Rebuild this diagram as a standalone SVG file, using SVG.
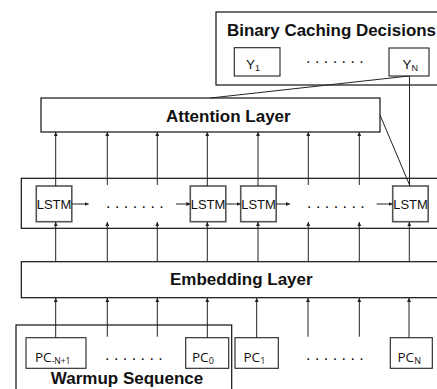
<svg xmlns="http://www.w3.org/2000/svg" width="437" height="389" viewBox="0 0 437 389">
<defs>
<marker id="ah" viewBox="0 0 6 6" refX="6" refY="3" markerWidth="4" markerHeight="4" markerUnits="userSpaceOnUse" orient="auto">
<path d="M0,0 L6,3 L0,6 z" fill="#222"/>
</marker>
<style>
.outer{fill:#fff;stroke:#111;stroke-width:1.2}
.inner{fill:#fff;stroke:#555;stroke-width:1.6}
.box{fill:#fff;stroke:#222;stroke-width:1.1}
.ln{stroke:#222;stroke-width:1;fill:none}
.ar{stroke:#222;stroke-width:1;fill:none;marker-end:url(#ah)}
.title{font-family:"Liberation Sans",Arial,sans-serif;font-weight:bold;font-size:17px;fill:#111}
.lstm{font-family:"Liberation Sans",Arial,sans-serif;font-size:13px;fill:#111}
.y{font-family:"Liberation Sans",Arial,sans-serif;font-size:13.5px;fill:#111}
.pc{font-family:"Open Sans","Noto Sans",sans-serif;font-size:13.5px;fill:#111}
.dots{font-family:"Liberation Sans",Arial,sans-serif;font-size:16px;fill:#111}
</style>
</defs>

<g id="binary-caching-decisions">
<rect class="outer" x="216" y="12" width="240" height="73"/>
<text class="title" x="227" y="36" textLength="209" lengthAdjust="spacingAndGlyphs">Binary Caching Decisions</text>
</g>
<g id="y1">
<rect class="box" x="234.3" y="47.7" width="45.7" height="28.3"/>
<text class="y" x="246" y="68.5">Y<tspan font-size="9" dy="2.5">1</tspan></text>
</g>
<g id="y-dots"><text class="dots" x="306" y="63">. . . . . . .</text></g>
<g id="yN">
<rect class="box" x="389" y="48" width="40" height="28"/>
<text class="y" x="402.5" y="68.5">Y<tspan font-size="9" dy="2.5">N</tspan></text>
</g>

<g id="attention-layer">
<rect class="outer" x="41" y="98" width="339" height="34"/>
<text class="title" x="166" y="121.5">Attention Layer</text>
</g>

<g id="lstm-row">
<rect class="outer" x="21.3" y="178.3" width="430" height="50"/>
</g>
<g id="lstm1"><rect class="inner" x="36.3" y="186" width="35.5" height="35.7"/><text class="lstm" x="54" y="208.5" text-anchor="middle">LSTM</text></g>
<g id="lstm2"><rect class="inner" x="190.3" y="186" width="35.5" height="35.7"/><text class="lstm" x="208" y="208.5" text-anchor="middle">LSTM</text></g>
<g id="lstm3"><rect class="inner" x="240.7" y="186" width="35.5" height="35.7"/><text class="lstm" x="258.5" y="208.5" text-anchor="middle">LSTM</text></g>
<g id="lstmN"><rect class="inner" x="392.7" y="186" width="35.5" height="35.7"/><text class="lstm" x="410.5" y="208.5" text-anchor="middle">LSTM</text></g>
<g id="lstm-dots">
<text class="dots" x="106" y="208">. . . . . . .</text>
<text class="dots" x="307" y="208">. . . . . . .</text>
</g>

<g id="embedding-layer">
<rect class="outer" x="21.3" y="261.7" width="430" height="36"/>
<text class="title" x="170" y="285">Embedding Layer</text>
</g>

<g id="warmup-sequence">
<rect class="outer" x="16" y="325" width="215.7" height="80"/>
<text class="title" x="127" y="383.5" text-anchor="middle">Warmup Sequence</text>
</g>
<g id="pc-n1"><rect class="box" x="26" y="337.7" width="60" height="30.6"/><text class="pc" x="35" y="361.5">PC<tspan font-size="8.5" dy="2.5">-N+1</tspan></text></g>
<g id="pc-dots1"><text class="dots" x="105" y="360">. . . . . . .</text></g>
<g id="pc0"><rect class="box" x="185.7" y="337.7" width="43" height="30.6"/><text class="pc" x="192" y="361.5">PC<tspan font-size="9" dy="2.5">0</tspan></text></g>
<g id="pc1"><rect class="box" x="235" y="337.7" width="43.3" height="30.6"/><text class="pc" x="243.5" y="361.5">PC<tspan font-size="9" dy="2.5">1</tspan></text></g>
<g id="pc-dots2"><text class="dots" x="306" y="360">. . . . . . .</text></g>
<g id="pcN"><rect class="box" x="390.3" y="337.7" width="42" height="30.6"/><text class="pc" x="397.5" y="361.5">PC<tspan font-size="9" dy="2.5">N</tspan></text></g>

<g id="connectors">
<line class="ln" x1="408.8" y1="76" x2="210.5" y2="98"/>
<line class="ln" x1="409.5" y1="76" x2="409.5" y2="186"/>
<line class="ln" x1="380" y1="115" x2="410" y2="186"/>

<line class="ar" x1="55.7" y1="186" x2="55.7" y2="132"/>
<line class="ar" x1="107.3" y1="185" x2="107.3" y2="132"/>
<line class="ar" x1="157.3" y1="185" x2="157.3" y2="132"/>
<line class="ar" x1="207.3" y1="186" x2="207.3" y2="132"/>
<line class="ar" x1="258" y1="186" x2="258" y2="132"/>
<line class="ar" x1="308.3" y1="185" x2="308.3" y2="132"/>
<line class="ar" x1="359.3" y1="185" x2="359.3" y2="132"/>

<line class="ar" x1="72" y1="204" x2="88.7" y2="204"/>
<line class="ar" x1="176" y1="204" x2="190.3" y2="204"/>
<line class="ar" x1="226" y1="204" x2="240.7" y2="204"/>
<line class="ar" x1="276" y1="204" x2="290" y2="204"/>
<line class="ar" x1="376.7" y1="204" x2="392.7" y2="204"/>

<line class="ar" x1="55.7" y1="262" x2="55.7" y2="222"/>
<line class="ar" x1="107.3" y1="262" x2="107.3" y2="222"/>
<line class="ar" x1="157.3" y1="262" x2="157.3" y2="222"/>
<line class="ar" x1="207.3" y1="262" x2="207.3" y2="222"/>
<line class="ar" x1="258" y1="262" x2="258" y2="222"/>
<line class="ar" x1="308.3" y1="262" x2="308.3" y2="222"/>
<line class="ar" x1="359.3" y1="262" x2="359.3" y2="222"/>
<line class="ar" x1="409.3" y1="262" x2="409.3" y2="222"/>

<line class="ar" x1="55.7" y1="337.7" x2="55.7" y2="298"/>
<line class="ar" x1="107.3" y1="336.7" x2="107.3" y2="298"/>
<line class="ar" x1="157.3" y1="336.7" x2="157.3" y2="298"/>
<line class="ar" x1="207.3" y1="337.7" x2="207.3" y2="298"/>
<line class="ar" x1="256.7" y1="337.7" x2="256.7" y2="298"/>
<line class="ar" x1="308" y1="336.7" x2="308" y2="298"/>
<line class="ar" x1="359.3" y1="336.7" x2="359.3" y2="298"/>
<line class="ar" x1="409" y1="337.7" x2="409" y2="298"/>
</g>
</svg>
